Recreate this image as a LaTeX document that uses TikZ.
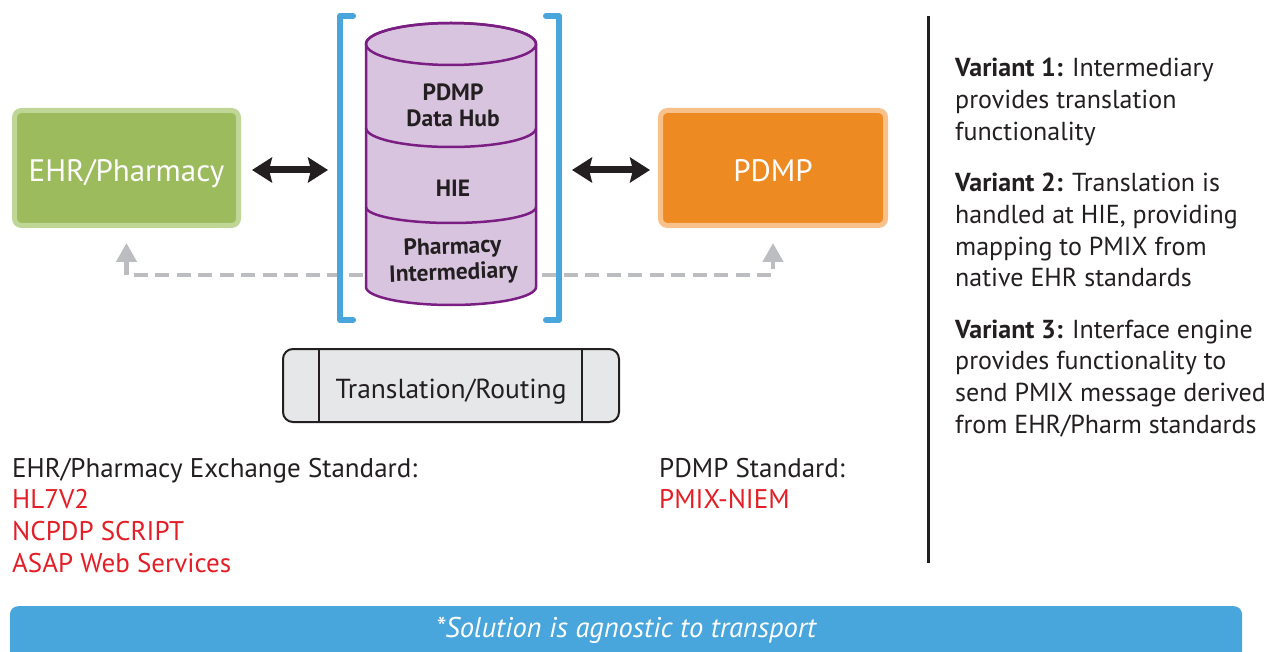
\documentclass[tikz,border=0pt]{standalone}
\usepackage{fontspec}
\setmainfont{PT Sans}
\usetikzlibrary{arrows.meta}
\definecolor{grfill}{RGB}{155,187,92}
\definecolor{grline}{RGB}{192,214,150}
\definecolor{orfill}{RGB}{238,138,34}
\definecolor{orline}{RGB}{248,192,138}
\definecolor{brblue}{RGB}{72,166,220}
\definecolor{purline}{RGB}{122,30,131}
\definecolor{purfill}{RGB}{217,196,223}
\definecolor{dashgray}{RGB}{188,189,192}
\definecolor{inkdark}{RGB}{35,31,32}
\definecolor{redtxt}{RGB}{227,30,38}
\definecolor{trfill}{RGB}{230,231,232}
\begin{document}
\begin{tikzpicture}[x=1pt,y=-1pt,
  sysbox/.style={rounded corners=7pt, line width=5pt, minimum width=224pt, minimum height=115pt,
    inner sep=0pt, text=white, font=\fontsize{31}{36}\selectfont, text height=28pt, text depth=0pt},
  bigarr/.style={line width=7pt, draw=inkdark,
    {Stealth[length=20pt 0, width=25pt 0, inset=3pt 0]}-{Stealth[length=20pt 0, width=25pt 0, inset=3pt 0]}},
  bracket/.style={draw=brblue, line width=6pt, line cap=round, line join=round},
  cylpath/.style={draw=purline, line width=2.5pt, fill=purfill},
  cyltext/.style={font=\bfseries\fontsize{23.5}{26}\selectfont, text=inkdark, align=center, inner sep=0pt},
  dashline/.style={draw=dashgray, line width=4.5pt, dash pattern=on 14pt off 7.5pt,
    {Triangle[length=19pt 0, width=20pt 0]}-{Triangle[length=19pt 0, width=20pt 0]}},
  trbox/.style={draw=inkdark, fill=trfill, line width=2pt, rounded corners=10pt,
    minimum width=336pt, minimum height=73pt, inner sep=0pt,
    font=\fontsize{27.5}{32}\selectfont, text=inkdark, text height=25pt, text depth=0pt},
  txt/.style={anchor=base west, inner sep=0pt, font=\fontsize{27}{32}\selectfont, text=inkdark},
  redt/.style={txt, text=redtxt},
  vtxt/.style={anchor=base west, inner sep=0pt, font=\fontsize{26}{32}\selectfont, text=inkdark},
  barbox/.style={fill=brblue, rounded corners=8pt, minimum width=1232pt, minimum height=64pt, inner sep=0pt},
  bartext/.style={text=white, font=\itshape\fontsize{28.5}{32}\selectfont, inner sep=0pt}
]
\useasboundingbox (0,0) rectangle (1276,652);

% systems
\node[sysbox, draw=grline, fill=grfill] (ehr) at (126.5,168) {EHR/Pharmacy};
\node[sysbox, draw=orline, fill=orfill, minimum width=225pt] (pdmp) at (773,168) {PDMP};

% dashed return path (behind the hub)
\draw[dashline] ([yshift=-15pt]ehr.south) -- ++(0,32) -| ([yshift=-15pt]pdmp.south);

% brackets
\coordinate (lbr) at (340,170);
\coordinate (rbr) at (559,170);
\draw[bracket] (353,16) -- (340,16) -- (340,320) -- (353,320);
\draw[bracket] (546,16) -- (559,16) -- (559,320) -- (546,320);

% cylinder
\coordinate (hub) at (451,165);
\draw[cylpath] (366,44) -- (366,287) arc[start angle=180, end angle=0, x radius=85, y radius=18]
  -- (536,44) arc[start angle=0, end angle=-180, x radius=85, y radius=21] -- cycle;
\draw[draw=purline, line width=2.5pt] (451,44) ellipse[x radius=85, y radius=21];
\draw[draw=purline, line width=2.5pt] (366,128) arc[start angle=180, end angle=0, x radius=85, y radius=19];
\draw[draw=purline, line width=2.5pt] (366,207) arc[start angle=180, end angle=0, x radius=85, y radius=16];
\node[cyltext] (hubtop) at (453,105) {PDMP\\Data Hub};
\node[cyltext] (hie) at (453,188) {HIE};
\node[cyltext, rotate=2] (interm) at (453,261) {Pharmacy\\Intermediary};

% black arrows
\draw[bigarr, shorten <=11pt, shorten >=12pt] (ehr.east |- lbr) -- (lbr);
\draw[bigarr, shorten <=13pt, shorten >=8pt] (rbr) -- (pdmp.west |- rbr);

% translation box
\node[trbox] (tr) at (451,385.5) {Translation/Routing};
\draw[draw=inkdark, line width=2pt] ([xshift=37pt]tr.north west) -- ([xshift=37pt]tr.south west);
\draw[draw=inkdark, line width=2pt] ([xshift=-38pt]tr.north east) -- ([xshift=-38pt]tr.south east);

% standards
\node[txt] (ehrstd) at (12,477) {EHR/Pharmacy Exchange Standard:};
\node[redt] (hl7) at (12,508.7) {HL7V2};
\node[redt] (ncpdp) at (12,540.4) {NCPDP SCRIPT};
\node[redt] (asap) at (12,572) {ASAP Web Services};
\node[txt] (pdmpstd) at (659,477) {PDMP Standard:};
\node[redt] (pmix) at (659,508.7) {PMIX-NIEM};

% separator
\draw[draw=inkdark, line width=3pt] (928,16) -- (928,563);

% variants
\node[vtxt] (v1a) at (955,77) {\textbf{Variant 1:} Intermediary};
\node[vtxt] (v1b) at (955,108.7) {provides translation};
\node[vtxt] (v1c) at (955,140.4) {functionality};
\node[vtxt] (v2a) at (955,192) {\textbf{Variant 2:} Translation is};
\node[vtxt] (v2b) at (955,223.7) {handled at HIE, providing};
\node[vtxt] (v2c) at (955,255.4) {mapping to PMIX from};
\node[vtxt] (v2d) at (955,287) {native EHR standards};
\node[vtxt] (v3a) at (955,338) {\textbf{Variant 3:} Interface engine};
\node[vtxt] (v3b) at (955,369.7) {provides functionality to};
\node[vtxt] (v3c) at (955,401.4) {send PMIX message derived};
\node[vtxt] (v3d) at (955,433) {from EHR/Pharm standards};

% bottom bar
\node[barbox, anchor=north] (bar) at (626,606) {};
\node[bartext] (note) at (626,630) {*Solution is agnostic to transport};
\end{tikzpicture}
\end{document}
